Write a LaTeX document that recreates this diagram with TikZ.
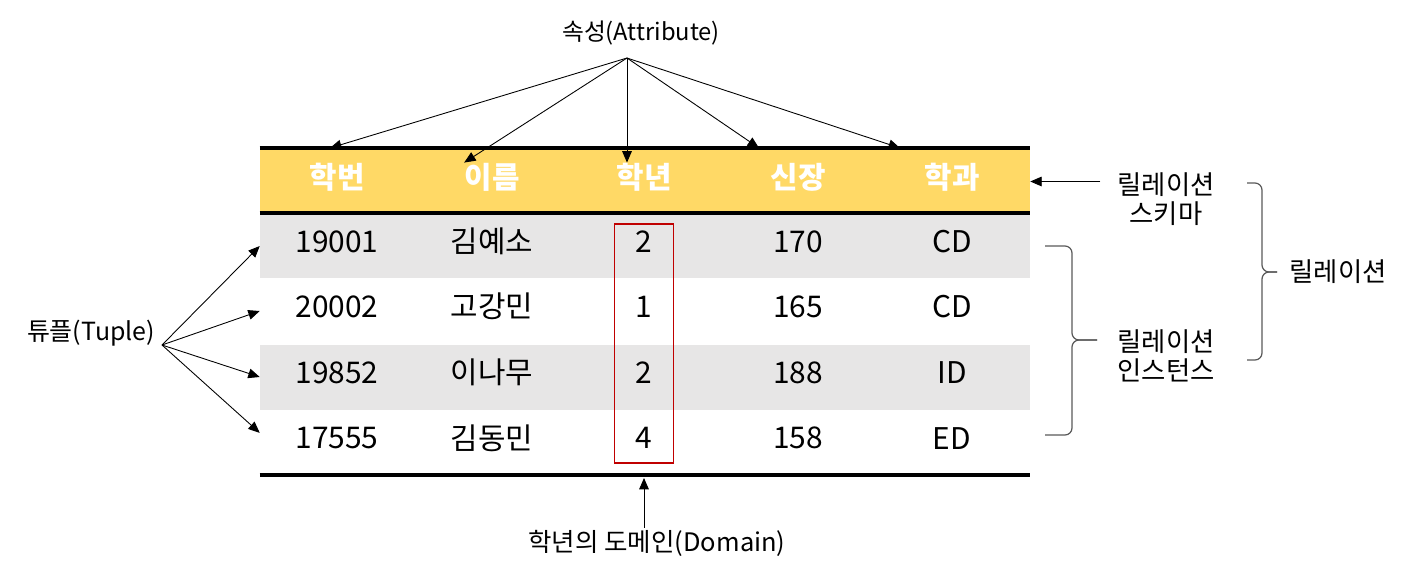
\documentclass[tikz,border=0pt]{standalone}
\usepackage{fontspec}
\setmainfont{Noto Sans CJK KR}
\usetikzlibrary{arrows.meta,positioning,calc}

\definecolor{hdyellow}{HTML}{FFD966}
\definecolor{rowgray}{HTML}{E7E6E6}
\definecolor{domred}{HTML}{C00000}
\definecolor{bracegray}{HTML}{595959}

\begin{document}
\begin{tikzpicture}[x=0.02cm, y=-0.02cm,
    lbl/.style={font=\fontsize{13.5}{16}\selectfont, align=center, inner sep=1pt},
    lblk/.style={lbl, font=\fontsize{15}{16.5}\selectfont},
    cell/.style={font=\fontsize{17}{20}\selectfont, inner sep=0pt},
    hcell/.style={cell, text=white, font=\fontsize{17}{20}\selectfont\bfseries},
    rowbox/.style={minimum width=15.4cm, minimum height=1.3cm, inner sep=0pt, draw=none},
    rule/.style={line width=2.3pt},
    arr/.style={-{Triangle[length=6.5pt,width=5.5pt]}, line width=0.5pt},
    brace/.style={bracegray, line width=0.7pt, rounded corners=4pt}
]
\useasboundingbox (0,0) rectangle (1413,575);

% table rows
\node[rowbox, fill=hdyellow, minimum height=1.26cm] (hdr) at (645,181.5) {};
\node[rowbox, fill=rowgray] (row1) at (645,246) {};
\node[rowbox] (row2) at (645,311) {};
\node[rowbox, fill=rowgray] (row3) at (645,377) {};
\node[rowbox] (row4) at (645,442.5) {};
\draw[rule] ([yshift=1pt]hdr.north west) -- ([yshift=1pt]hdr.north east);
\draw[rule] (hdr.south west) -- (hdr.south east);
\draw[rule] (row4.south west) -- (row4.south east);

% header
\node[hcell] (h1) at (337,177) {학번};
\node[hcell] (h2) at (492,177) {이름};
\node[hcell] (h3) at (644,177) {학년};
\node[hcell] (h4) at (798,177) {신장};
\node[hcell] (h5) at (952,177) {학과};

% tuples
\foreach \r/\id/\nm/\yr/\hgt/\dpt in {1/19001/김예소/2/170/CD, 2/20002/고강민/1/165/CD,
    3/19852/이나무/2/188/ID, 4/17555/김동민/4/158/ED} {
  \node[cell, yshift=2.5pt] (id\r) at (row\r -| h1) {\id};
  \node[cell, yshift=2.5pt] (nm\r) at (row\r -| h2) {\nm};
  \node[cell, yshift=2.5pt] (yr\r) at (row\r -| h3) {\yr};
  \node[cell, yshift=2.5pt] (ht\r) at (row\r -| h4) {\hgt};
  \node[cell, yshift=2.5pt] (dp\r) at (row\r -| h5) {\dpt};
}

\node[draw=domred, line width=0.8pt, minimum width=1.18cm, minimum height=4.78cm] (dom) at (644,343.5) {};

% labels
\node[lbl] (attr) at (641,33) {속성(Attribute)};
\node[lbl, font=\fontsize{14.2}{16}\selectfont] (tup) at (91,333) {튜플(Tuple)};
\node[lblk, font=\fontsize{14.5}{16}\selectfont] (domlbl) at (657,543) {학년의 도메인(Domain)};
\node[lblk] (schema) at (1166,199) {릴레이션\\스키마};
\node[lblk] (inst) at (1166,356) {릴레이션\\인스턴스};
\node[lblk] (rel) at (1338,272) {릴레이션};

\coordinate (fan) at (627,58);
\coordinate (t1) at (330,148);
\coordinate (t4) at (759,148);
\coordinate (t5) at (900,148);
\coordinate (tsrc) at (162,345);

\draw[arr] (fan) -- (t1);
\draw[arr] (fan) -- (h2.north west);
\draw[arr] (fan) -- (fan |- h3.north);
\draw[arr] (fan) -- (t4);
\draw[arr] (fan) -- (t5);

\draw[arr] (tsrc) -- (row1.west);
\draw[arr] (tsrc) -- (row2.west);
\draw[arr] (tsrc) -- (row3.west);
\draw[arr] (tsrc) -- ([yshift=5.5pt]row4.west);

\draw[arr] (domlbl.north -| dom) -- ([yshift=-1.5pt]dom |- row4.south);
\draw[arr] ([xshift=-0.3cm]schema.west |- hdr) -- (hdr.east);

% braces
\draw[brace] (1045,246) -- (1072,246) -- (1072,340) -- (1097,340);
\draw[brace] (1097,340) -- (1072,340) -- (1072,435) -- (1045,435);
\draw[brace] (1247,183) -- (1262,183) -- (1262,272) -- (1277,272);
\draw[brace] (1277,272) -- (1262,272) -- (1262,360) -- (1247,360);
\end{tikzpicture}
\end{document}
